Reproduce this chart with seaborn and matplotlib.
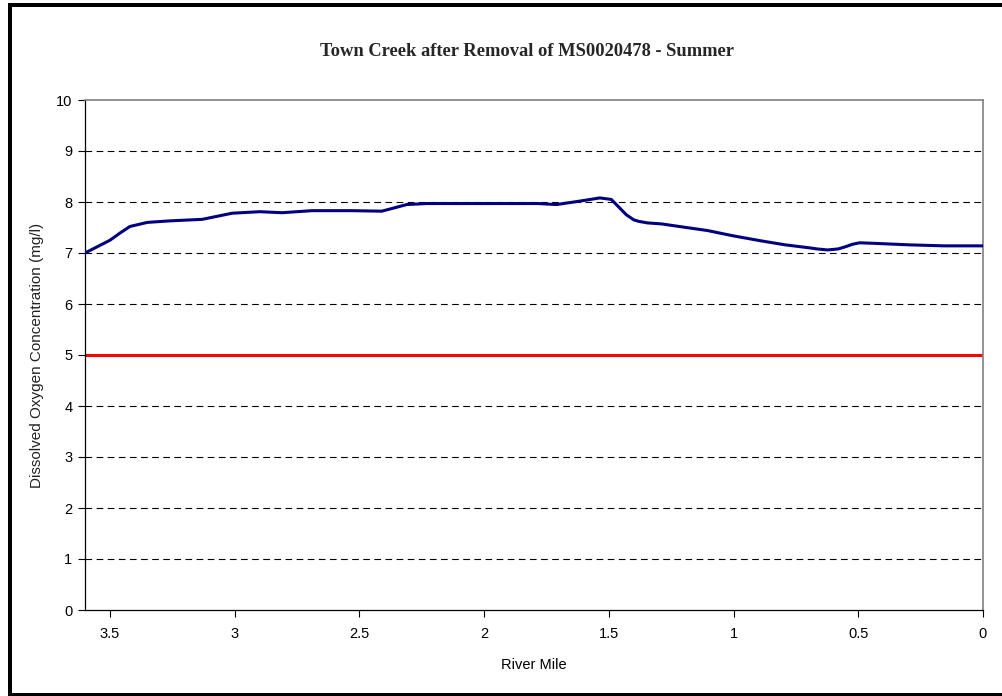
import numpy as np
import pandas as pd
import matplotlib
matplotlib.use("Agg")
import matplotlib.pyplot as plt
from matplotlib.lines import Line2D
import seaborn as sns

# ---- data ----
river_mile = [3.60, 3.50, 3.46, 3.42, 3.35, 3.26, 3.13, 3.01, 2.90, 2.81, 2.69, 2.53, 2.41,
              2.31, 2.23, 2.10, 1.90, 1.785, 1.71, 1.64, 1.60, 1.536, 1.49, 1.472, 1.444,
              1.43, 1.40, 1.38, 1.345, 1.288, 1.218, 1.104, 1.005, 0.892, 0.793, 0.694,
              0.666, 0.623, 0.58, 0.553, 0.524, 0.495, 0.439, 0.297, 0.156, 0.0]
do_conc = [7.00, 7.25, 7.39, 7.52, 7.60, 7.63, 7.66, 7.78, 7.81, 7.79, 7.83, 7.83, 7.82,
           7.95, 7.97, 7.97, 7.97, 7.97, 7.95, 8.00, 8.03, 8.08, 8.05, 7.96, 7.82,
           7.75, 7.65, 7.62, 7.59, 7.57, 7.52, 7.44, 7.34, 7.24, 7.16, 7.10,
           7.08, 7.06, 7.08, 7.12, 7.17, 7.20, 7.19, 7.16, 7.14, 7.14]
standard_x = [3.6, 0.0]
standard_y = [5.0, 5.0]
x_ticks = [3.5, 3, 2.5, 2, 1.5, 1, 0.5, 0]
x_tick_labels = ["3.5", "3", "2.5", "2", "1.5", "1", "0.5", "0"]
y_ticks = list(range(0, 11))

title = "Town Creek after Removal of MS0020478 - Summer"
xlabel = "River Mile"
ylabel = "Dissolved Oxygen Concentration (mg/l)"

sns.set_theme(style="white")
plt.rcParams['font.family'] = ['Liberation Sans', 'DejaVu Sans']

fig = plt.figure(figsize=(10.03, 6.96), dpi=100)
ax = fig.add_axes([85/1003, 1 - 610/696, (983-85)/1003, (610-100)/696])

# gridlines
for yv in y_ticks[1:-1]:
    ax.axhline(yv, color="black", lw=0.8, ls=(0, (6, 4)), zorder=1)

df = pd.DataFrame({"mile": river_mile, "do": do_conc})
sns.lineplot(data=df, x="mile", y="do", ax=ax, color="#000080", lw=2.2,
             sort=False, estimator=None, zorder=3)
sns.lineplot(x=standard_x, y=standard_y, ax=ax, color="#ff0000", lw=2.2,
             estimator=None, zorder=2)
for ln in ax.lines:
    ln.set_solid_joinstyle("round")

ax.set_xlim(3.6, 0.0)
ax.set_ylim(0, 10)
ax.set_xticks(x_ticks)
ax.set_xticklabels(x_tick_labels)
ax.set_yticks(y_ticks)
ax.tick_params(axis="both", which="both", direction="out", length=5, width=0.8,
               color="black", labelsize=10.5, labelcolor="black", bottom=True, left=True)
ax.tick_params(axis="x", pad=7.5)
ax.tick_params(axis="y", pad=4)

for side in ["left", "bottom"]:
    ax.spines[side].set_color("black")
    ax.spines[side].set_linewidth(0.9)
for side in ["top", "right"]:
    ax.spines[side].set_color("#808080")
    ax.spines[side].set_linewidth(1.2)

ax.set_xlabel(xlabel, fontsize=10.5, color="black", labelpad=12)
ax.set_ylabel(ylabel, fontsize=11, color="#222222", labelpad=9)

fig.text(527/1003, 1 - 52/696, title, ha="center", va="center",
         fontsize=13.3, fontweight="bold", family=["Liberation Serif", "DejaVu Serif"])

# outer frame
lw_px = 4
lw_pt = lw_px * 72 / 100
fig.add_artist(Line2D([10/1003, 1.0], [1 - 5/696, 1 - 5/696], transform=fig.transFigure,
                      color="black", lw=lw_pt, solid_capstyle="butt"))
fig.add_artist(Line2D([10/1003, 10/1003], [1 - 3/696, 1 - 696/696], transform=fig.transFigure,
                      color="black", lw=lw_pt, solid_capstyle="butt"))
fig.add_artist(Line2D([8/1003, 1.0], [1 - 694.5/696, 1 - 694.5/696], transform=fig.transFigure,
                      color="black", lw=lw_pt, solid_capstyle="butt"))

fig.savefig("out.png", dpi=100)
